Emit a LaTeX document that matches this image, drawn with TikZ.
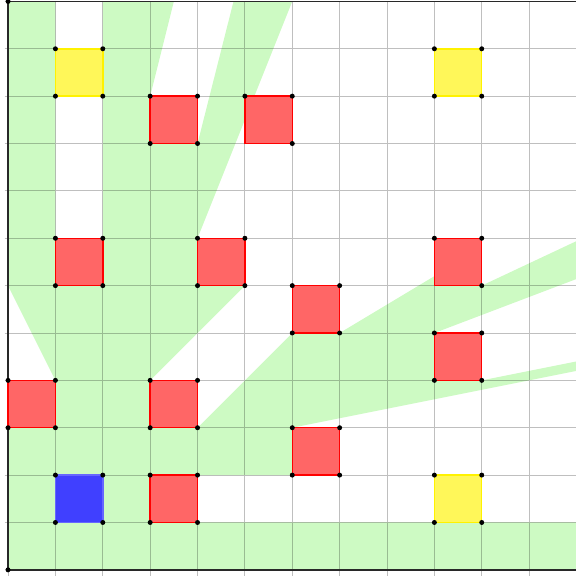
\documentclass[tikz,border=0pt]{standalone}
\usepackage{xcolor}
\usepackage{tikz}
\usetikzlibrary{positioning, calc}
\definecolor{seengreen}{RGB}{205, 250, 195}
\definecolor{framegray}{RGB}{40, 40, 40}

\begin{document}
\begin{tikzpicture}[
    x=1cm, y=1cm,
    cell/.style={rectangle, draw=#1, fill=#1!60, line width=0.9pt,
                 minimum size=1cm, inner sep=0pt, outer sep=0pt},
    gridline/.style={black, opacity=0.25, line width=0.55pt},
    corner/.style={black}
]
\useasboundingbox (-0.17,-0.13) rectangle (11.99,12.03);

% Visible area
\fill[seengreen] (0,0) -- (12,0) -- (12,1) -- (4,1) -- (4,2) -- (6,2) -- (6,3)
    -- (12,4.2) -- (12,4.4) -- (10,4) -- (9,5) -- (12,6.14) -- (12,6.94)
    -- (10,6) -- (9,6.2) -- (7,5) -- (6,5) -- (4,3) -- (3,4) -- (5,6)
    -- (4,7) -- (6,12) -- (4.76,12) -- (4,9) -- (3,10) -- (3.5,12)
    -- (2,12) -- (2,7) -- (1,7) -- (1,12) -- (0,12) -- (0,6) -- (1,4)
    -- (0,3) -- cycle;

% Grid and frame
\draw[gridline] (-0.07,-0.13) grid (12,12);
\draw[framegray, line width=0.8pt] (0,12) -- (0,0) -- (12,0);
\draw[framegray, line width=0.8pt] (0,12) -- (12,12);
\fill[corner] (0,0) circle (1.5pt);
\fill[corner] (0,12) circle (1.5pt);

% Obstacles
\foreach \x/\y in {3/9, 1/6, 4/6, 6/5, 9/4, 0/3, 3/3, 6/2, 3/1} {
    \node[cell=red] (r\x\y) at (\x+0.5, \y+0.5) {};
    \foreach \a in {north east, north west, south east, south west}
        \fill[corner] (r\x\y.\a) circle (1.5pt);
}
\foreach \x/\y in {5/9, 9/6} {
    \node[cell=red] (r\x\y) at (\x+0.5, \y+0.5) {};
    \foreach \a in {north east, north west, south east}
        \fill[corner] (r\x\y.\a) circle (1.5pt);
}

% Goals
\foreach \x/\y in {1/10, 9/10, 9/1} {
    \node[cell=yellow, fill=yellow!65] (g\x\y) at (\x+0.5, \y+0.5) {};
    \foreach \a in {north east, north west, south east, south west}
        \fill[corner] (g\x\y.\a) circle (1.5pt);
}

% Start
\node[cell=blue, draw=blue!60, fill=blue!75] (start) at (1.5, 1.5) {};
\foreach \a in {north east, north west, south east, south west}
    \fill[corner] (start.\a) circle (1.5pt);

\end{tikzpicture}
\end{document}
